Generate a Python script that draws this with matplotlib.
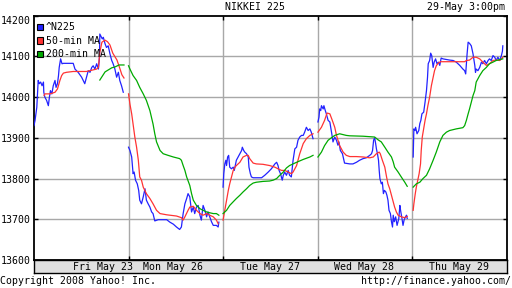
import matplotlib
matplotlib.use("Agg")
import matplotlib.pyplot as plt
from matplotlib.patches import Rectangle
import numpy as np

nan = np.nan

# time axis: trading minutes from Fri open (270 minutes per session)
n225_t = [0, 3, 8, 12, 15, 19, 23, 27, 28, 31, 36, 41, 44, 47, 51, 55, 60, 63, 67, 70, 72, 76, 80, 84, 112, 117,
          126, 136, 145, 150, 155, 160, 165, 169, 174, 179, 184, 187, 188, 195, 198, 203, 207, 212, 217, 222, 226,
          231, 236, 241, 245, 250, 255, nan,
          270, 274, 279, 283, 286, 290, 295, 299, 302, 307, 312, 317, 321, 326, 331, 336, 340, 345, 355, 379, 388,
          398, 407, 416, 421, 426, 431, 436, 440, 445, 450, 455, 459, 464, 469, 474, 478, 483, 488, 493, 497, 502,
          507, 512, 521, 526, 528, nan,
          540, 542, 545, 548, 550, 553, 556, 559, 564, 569, 572, 575, 578, 583, 588, 593, 595, 599, 602, 607, 612,
          614, 618, 621, 626, 650, 659, 669, 678, 688, 693, 697, 700, 704, 709, 712, 716, 721, 726, 730, 735, 740,
          745, 750, 754, 759, 764, 769, 773, 778, 783, 788, 792, 797, nan,
          811, 814, 816, 819, 821, 826, 828, 832, 835, 840, 845, 849, 852, 854, 859, 864, 868, 871, 875, 881, 885,
          887, 902, 911, 921, 930, 940, 949, 959, 964, 967, 970, 973, 976, 978, 981, 984, 986, 988, 992, 995, 998,
          1001, 1005, 1008, 1011, 1014, 1018, 1021, 1024, 1026, 1029, 1033, 1037, 1042, 1045, 1047, 1051, 1054,
          1057, 1061, 1064, 1066, nan,
          1083, 1085, 1088, 1090, 1094, 1099, 1102, 1105, 1108, 1113, 1117, 1121, 1124, 1126, 1130, 1133, 1136,
          1140, 1143, 1147, 1151, 1155, 1159, 1163, 1168, 1187, 1197, 1206, 1216, 1225, 1230, 1233, 1237, 1240,
          1244, 1249, 1254, 1259, 1261, 1263, 1268, 1273, 1278, 1282, 1287, 1292, 1297, 1301, 1306, 1311, 1316,
          1320, 1325, 1330, 1335, 1338, 1339]
n225_v = [13930, 13943, 13975, 14041, 14033, 14037, 14028, 14037, 14012, 14000, 13992, 13979, 14000, 14016, 14008,
          14028, 14041, 14024, 14033, 14053, 14073, 14094, 14082, 14083, 14083, 14069, 14061, 14049, 14033, 14049,
          14065, 14061, 14073, 14077, 14069, 14082, 14069, 14098, 14155, 14143, 14147, 14131, 14122, 14126, 14106,
          14090, 14082, 14069, 14049, 14061, 14041, 14028, 14012, nan,
          13877, 13869, 13853, 13812, 13816, 13796, 13787, 13771, 13747, 13738, 13755, 13775, 13747, 13738, 13730,
          13718, 13714, 13696, 13699, 13699, 13693, 13688, 13681, 13675, 13681, 13714, 13738, 13751, 13763, 13755,
          13718, 13730, 13714, 13730, 13734, 13710, 13698, 13734, 13722, 13706, 13718, 13706, 13694, 13685, 13685,
          13681, 13693, nan,
          13779, 13812, 13836, 13845, 13832, 13853, 13857, 13828, 13824, 13828, 13820, 13832, 13845, 13853, 13861,
          13869, 13877, 13869, 13865, 13861, 13853, 13828, 13812, 13804, 13802, 13802, 13808, 13816, 13824, 13836,
          13840, 13832, 13820, 13812, 13796, 13808, 13816, 13808, 13820, 13808, 13804, 13845, 13873, 13877, 13894,
          13902, 13906, 13906, 13914, 13926, 13918, 13922, 13914, 13898, nan,
          13939, 13951, 13971, 13967, 13979, 13971, 13979, 13967, 13959, 13943, 13939, 13918, 13902, 13890, 13902,
          13894, 13882, 13890, 13869, 13861, 13845, 13838, 13836, 13836, 13840, 13845, 13849, 13851, 13857, 13861,
          13869, 13894, 13900, 13885, 13873, 13861, 13845, 13820, 13800, 13787, 13791, 13763, 13771, 13767, 13759,
          13747, 13722, 13714, 13694, 13681, 13710, 13694, 13706, 13685, 13702, 13734, 13722, 13702, 13685, 13698,
          13706, 13710, 13702, nan,
          13853, 13922, 13918, 13926, 13910, 13918, 13935, 13943, 13959, 13963, 13988, 14016, 14049, 14082, 14090,
          14108, 14102, 14073, 14086, 14094, 14082, 14086, 14078, 14096, 14094, 14091, 14090, 14086, 14078, 14069,
          14065, 14057, 14106, 14135, 14132, 14126, 14106, 14078, 14061, 14069, 14065, 14073, 14086, 14082, 14090,
          14082, 14090, 14094, 14090, 14102, 14098, 14090, 14098, 14090, 14102, 14113, 14126]

ma50_t = [29, 31, 46, 60, 67, 74, 79, 84, 93, 112, 150, 169, 179, 184, 188, 194, 203, 210, 217, 225, 237, 245, 251,
          257, nan,
          270, 274, 279, 283, 288, 293, 298, 302, 307, 312, 321, 331, 340, 350, 360, 379, 407, 421, 426, 431, 440,
          445, 455, 464, 474, 483, 493, 502, 512, 521, 526, nan,
          540, 545, 550, 555, 559, 564, 569, 574, 578, 588, 597, 607, 612, 616, 626, 635, 654, 673, 688, 697, 707,
          716, 726, 735, 740, 750, 759, 769, 778, 788, 797, nan,
          811, 821, 830, 837, 845, 852, 859, 864, 873, 883, 892, 902, 921, 940, 959, 969, 978, 986, 989, 995, 1002,
          1007, 1011, 1016, 1021, 1026, 1030, 1035, 1040, 1049, 1059, 1066, nan,
          1083, 1085, 1089, 1092, 1097, 1100, 1104, 1106, 1109, 1113, 1117, 1121, 1125, 1130, 1135, 1140, 1144,
          1149, 1154, 1161, 1230, 1235, 1244, 1254, 1263, 1273, 1282, 1292, 1301, 1311, 1320, 1330, 1335, 1339]
ma50_v = [14004, 14008, 14008, 14012, 14020, 14041, 14053, 14059, 14061, 14063, 14063, 14067, 14069, 14073, 14110,
          14135, 14140, 14136, 14128, 14108, 14091, 14071, 14055, 14047, nan,
          14008, 13983, 13959, 13934, 13902, 13877, 13845, 13804, 13796, 13779, 13763, 13751, 13738, 13722, 13714,
          13711, 13708, 13704, 13698, 13706, 13722, 13730, 13732, 13722, 13714, 13710, 13714, 13710, 13706, 13698,
          13689, nan,
          13698, 13722, 13747, 13771, 13787, 13804, 13820, 13828, 13832, 13840, 13853, 13857, 13857, 13849, 13838,
          13836, 13835, 13832, 13828, 13824, 13820, 13820, 13816, 13812, 13816, 13832, 13861, 13886, 13898, 13906,
          13910, nan,
          13914, 13926, 13943, 13961, 13959, 13943, 13926, 13906, 13881, 13865, 13857, 13854, 13854, 13853, 13851,
          13853, 13861, 13865, 13861, 13845, 13828, 13804, 13787, 13775, 13759, 13743, 13730, 13718, 13710, 13706,
          13704, 13707, nan,
          13722, 13738, 13763, 13779, 13800, 13812, 13836, 13869, 13902, 13922, 13943, 13959, 13979, 14000, 14028,
          14049, 14065, 14077, 14083, 14087, 14087, 14090, 14091, 14098, 14098, 14094, 14086, 14078, 14082, 14090,
          14091, 14090, 14094, 14098]

ma200_t = [188, 203, 222, 231, 243, 257, nan,
           270, 274, 283, 293, 302, 312, 321, 331, 340, 345, 350, 360, 369, 383, 398, 416, 421, 426, 431, 436, 445,
           450, 455, 464, 474, 483, 493, 502, 512, 521, 528, nan,
           540, 550, 559, 569, 578, 588, 597, 607, 616, 626, 635, 654, 673, 683, 693, 702, 712, 721, 730, 750, 769,
           788, 797, nan,
           811, 821, 830, 840, 849, 859, 873, 892, 902, 940, 973, 983, 992, 1002, 1011, 1021, 1026, 1030, 1040, 1049,
           1059, 1066, nan,
           1083, 1092, 1102, 1111, 1121, 1130, 1140, 1149, 1159, 1168, 1178, 1187, 1206, 1225, 1230, 1235, 1240,
           1244, 1254, 1259, 1263, 1268, 1273, 1282, 1292, 1301, 1311, 1320, 1330, 1339]
ma200_v = [14042, 14062, 14072, 14074, 14079, 14079, nan,
           14077, 14069, 14053, 14041, 14024, 14008, 13992, 13967, 13934, 13910, 13890, 13869, 13861, 13857, 13853,
           13849, 13845, 13832, 13820, 13804, 13783, 13763, 13747, 13734, 13726, 13722, 13718, 13716, 13714, 13714,
           13710, nan,
           13714, 13722, 13734, 13743, 13751, 13759, 13767, 13775, 13783, 13789, 13791, 13793, 13794, 13796, 13800,
           13808, 13816, 13826, 13832, 13840, 13847, 13853, 13857, nan,
           13853, 13865, 13881, 13894, 13900, 13906, 13910, 13906, 13905, 13904, 13902, 13895, 13890, 13877, 13865,
           13853, 13841, 13828, 13816, 13804, 13791, 13781, nan,
           13779, 13787, 13791, 13800, 13808, 13824, 13845, 13865, 13890, 13906, 13914, 13918, 13922, 13925, 13930,
           13943, 13959, 13971, 14004, 14016, 14037, 14045, 14053, 14065, 14073, 14082, 14086, 14090, 14092, 14094]

day_breaks = [270, 540, 810, 1080]
day_labels = ["Fri May 23", "Mon May 26", "Tue May 27", "Wed May 28", "Thu May 29"]
day_label_t = [197, 397, 674, 942, 1213]
y_ticks = [13600, 13700, 13800, 13900, 14000, 14100, 14200]

mono = "DejaVu Sans Mono"
fs = 7.1
plt.rcParams['font.family'] = mono

W, H = 512, 288
fig = plt.figure(figsize=(5.12, 2.88), dpi=100)
fig.patch.set_facecolor("white")

x0, x1, ytop, ybot = 34, 507, 15.7, 260
ax = fig.add_axes([x0 / W, (H - ybot) / H, (x1 - x0) / W, (ybot - ytop) / H])
ax.set_xlim(0, 1351)
ax.set_ylim(13600, 14200)

for yv in y_ticks[1:-1]:
    ax.axhline(yv, color="#a8a8a8", lw=1.0, zorder=1)
for xv in day_breaks:
    ax.axvline(xv, color="#a8a8a8", lw=1.0, zorder=1)

ax.plot(n225_t, n225_v, color="#2222ff", lw=0.9, zorder=3)
ax.plot(ma50_t, ma50_v, color="#ff3333", lw=0.9, zorder=4)
ax.plot(ma200_t, ma200_v, color="#00aa00", lw=0.9, zorder=5)

ax.set_yticks(y_ticks)
ax.set_yticklabels([str(v) for v in y_ticks], fontsize=fs)
ax.set_xticks(day_breaks)
ax.set_xticklabels([])
ax.tick_params(direction="in", length=3, width=1, color="black", top=True, right=True, pad=2)
ax.get_yticklabels()[-1].set_va("top")
for s in ax.spines.values():
    s.set_color("black")
    s.set_linewidth(1.3)

# date band under the plot
band = fig.add_axes([x0 / W, (H - 273) / H, (x1 - x0) / W, 13 / H])
band.set_facecolor("#e0e0e0")
band.set_xlim(0, 1351)
band.set_ylim(0, 1)
band.set_xticks([])
band.set_yticks([])
for s in band.spines.values():
    s.set_color("black")
    s.set_linewidth(1.0)
for t, lab in zip(day_label_t, day_labels):
    band.text(t, 0.45, lab, ha="center", va="center", fontsize=fs, color="black")

# legend
legend_items = [("^N225", "#2222ff"), ("50-min MA", "#ff3333"), ("200-min MA", "#00aa00")]
for i, (lab, col) in enumerate(legend_items):
    yc = 27.2 + i * 13.3
    fig.add_artist(Rectangle((37.3 / W, (H - yc - 3) / H), 6 / W, 6 / H, transform=fig.transFigure,
                             facecolor=col, edgecolor="black", lw=0.8, zorder=10))
    fig.text(45.5 / W, (H - yc) / H, lab, ha="left", va="center", fontsize=fs, zorder=10)

fig.text(255 / W, (H - 7) / H, "NIKKEI 225", ha="center", va="center", fontsize=fs)
fig.text(505 / W, (H - 7) / H, "29-May 3:00pm", ha="right", va="center", fontsize=fs)
fig.text(0, (H - 281) / H, "Copyright 2008 Yahoo! Inc.", ha="left", va="center", fontsize=fs)
fig.text(511 / W, (H - 281) / H, "http://finance.yahoo.com/", ha="right", va="center", fontsize=fs)

fig.savefig("out.png", dpi=100)
